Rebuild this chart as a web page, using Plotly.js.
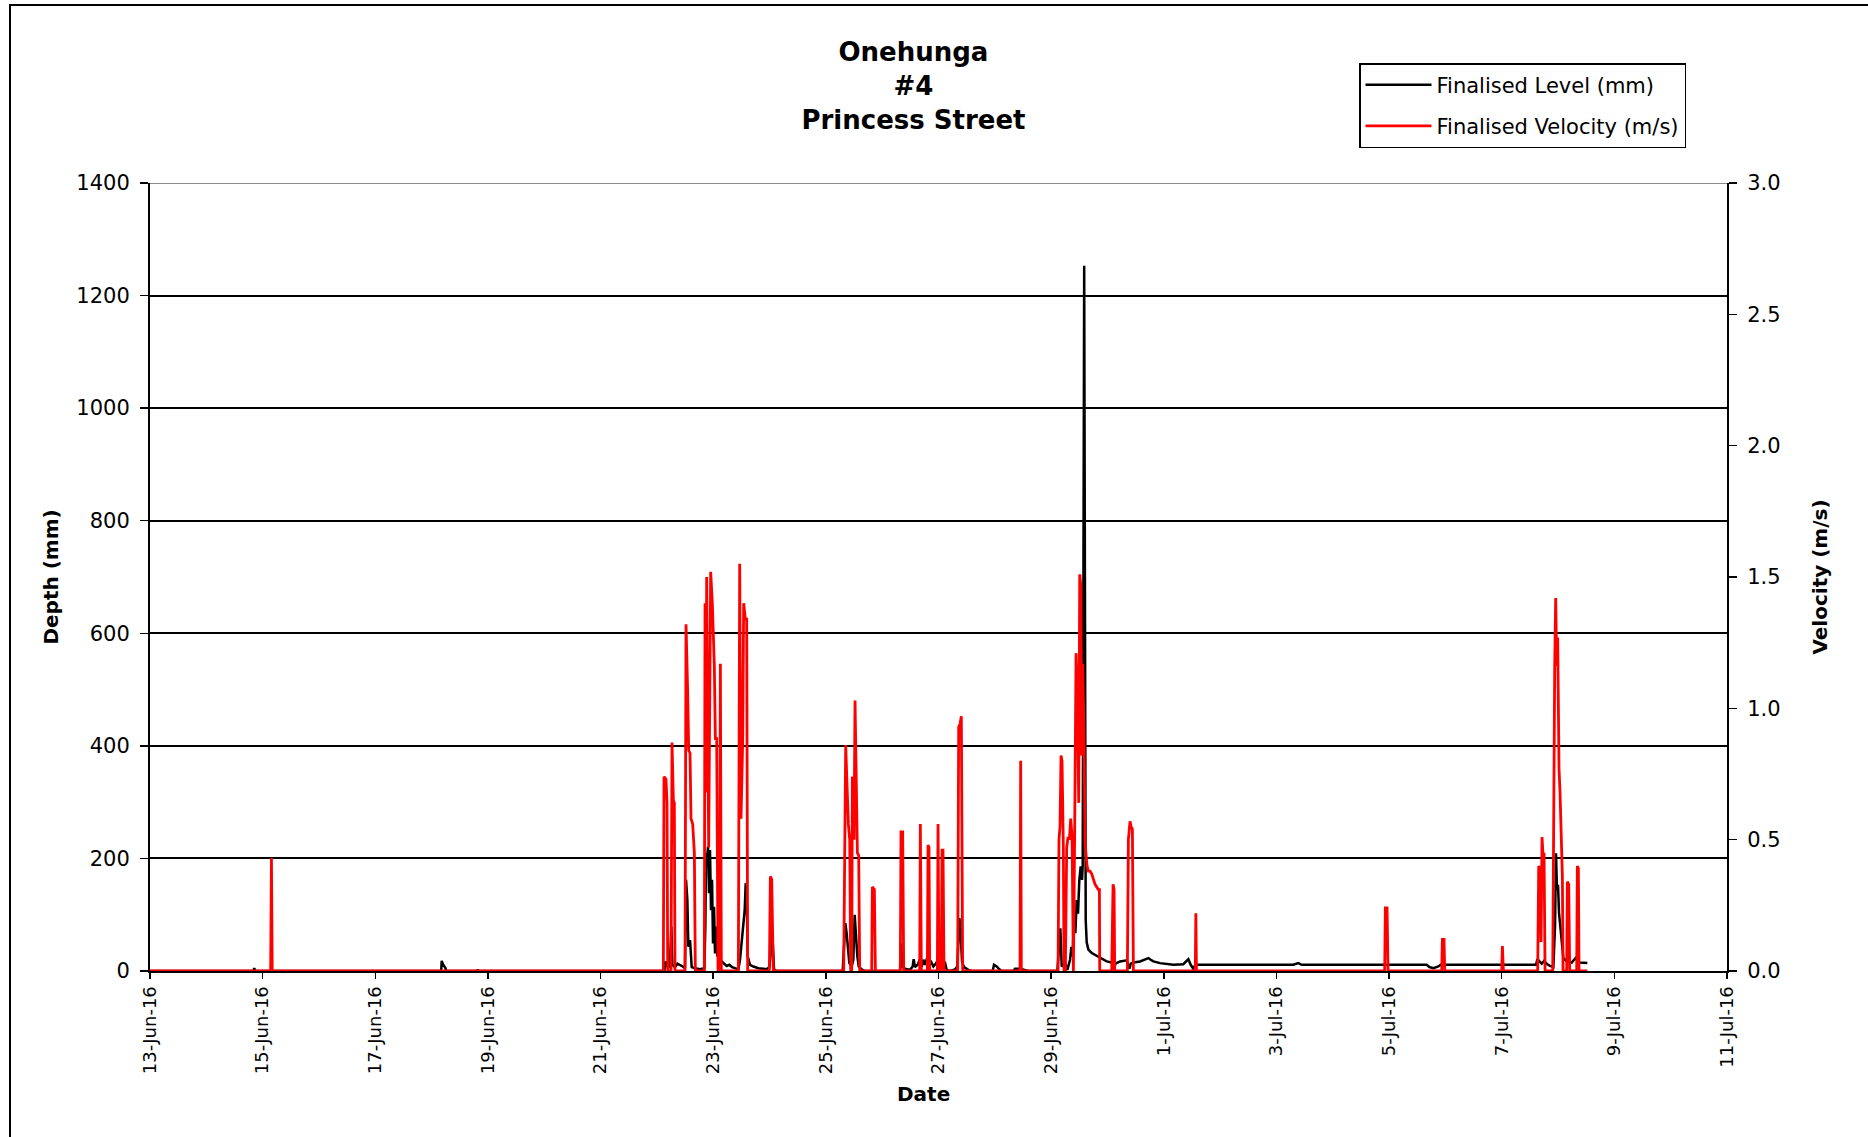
<!DOCTYPE html>
<html>
<head>
<meta charset="utf-8">
<script src="https://cdn.plot.ly/plotly-3.0.1.min.js"></script>
<style>
html,body{margin:0;padding:0;background:#ffffff;}
#chart{width:1868px;height:1137px;}
</style>
</head>
<body>
<div id="chart"></div>
<script>
// ---- Data ----
const yearPrefix = '2016-';

const levelTime = [
'06-13 00:00','06-14 20:00','06-14 20:25','06-14 20:50','06-18 04:05','06-18 04:18','06-18 04:50','06-18 05:55','06-18 06:10',
'06-18 19:30','06-18 19:40','06-18 19:50',
'06-22 03:11','06-22 03:36','06-22 04:10','06-22 04:53','06-22 05:35','06-22 06:10','06-22 06:35','06-22 07:43','06-22 08:43',
'06-22 09:51','06-22 10:59','06-22 11:59','06-22 12:25','06-22 12:59','06-22 13:24','06-22 14:07','06-22 14:50','06-22 16:15',
'06-22 18:23','06-22 20:13','06-22 20:39','06-22 20:56','06-22 21:22','06-22 21:47','06-22 22:13','06-22 22:38','06-22 23:04',
'06-22 23:30','06-22 23:55','06-23 00:21','06-23 00:46','06-23 01:12','06-23 01:46','06-23 02:20','06-23 02:54','06-23 03:37',
'06-23 04:36','06-23 05:44','06-23 06:53','06-23 08:01','06-23 09:18','06-23 10:43','06-23 11:25','06-23 12:08','06-23 12:51',
'06-23 13:25','06-23 13:50','06-23 14:16','06-23 14:41','06-23 15:41','06-23 17:06','06-23 19:14','06-23 21:22','06-23 22:47',
'06-23 23:56','06-24 00:30','06-24 01:04','06-24 01:29','06-24 01:55','06-24 03:03',
'06-25 07:10','06-25 07:44','06-25 08:18','06-25 08:52','06-25 09:26','06-25 10:00','06-25 11:00','06-25 11:42','06-25 12:17',
'06-25 12:51','06-25 13:25','06-25 13:59','06-25 15:16','06-25 16:41',
'06-26 07:36','06-26 08:01','06-26 08:35','06-26 09:44','06-26 11:51','06-26 13:00','06-26 13:25','06-26 13:59','06-26 15:08',
'06-26 16:07','06-26 16:50','06-26 17:32','06-26 18:15','06-26 18:58','06-26 19:49','06-26 20:48','06-26 21:48','06-26 22:47',
'06-26 23:56','06-27 00:56','06-27 01:47','06-27 02:46','06-27 03:29','06-27 04:54','06-27 07:02','06-27 08:02','06-27 08:53',
'06-27 09:27','06-27 10:01','06-27 10:52','06-27 12:43','06-27 14:08','06-27 23:05','06-27 23:39','06-28 00:48','06-28 01:56',
'06-28 02:56','06-28 07:54','06-28 08:36','06-28 10:44','06-28 12:52','06-28 14:17',
'06-29 02:39','06-29 03:56','06-29 04:30','06-29 05:55','06-29 06:54','06-29 08:03','06-29 08:37','06-29 09:11','06-29 09:45',
'06-29 10:19','06-29 10:53','06-29 11:27','06-29 12:01','06-29 12:36','06-29 13:10','06-29 13:27','06-29 14:05','06-29 14:30',
'06-29 14:44','06-29 15:09','06-29 15:52','06-29 17:18','06-29 19:25','06-29 21:33','06-29 23:41','06-30 01:49','06-30 02:48','06-30 03:22',
'06-30 05:22','06-30 08:12','06-30 09:22','06-30 09:55','06-30 11:02','06-30 13:53','06-30 17:26','06-30 18:26','06-30 19:34',
'06-30 22:24','07-01 04:04','07-01 08:20','07-01 10:28','07-01 11:28','07-01 12:36','07-01 13:27','07-03 07:12','07-03 09:21',
'07-03 10:46','07-05 16:02','07-05 17:10','07-05 18:53','07-05 21:01','07-05 22:00','07-07 14:37','07-07 15:11','07-07 16:03',
'07-07 17:02','07-07 18:02','07-07 19:10','07-07 20:35','07-07 22:00','07-07 22:43','07-07 23:08','07-07 23:34','07-08 00:00',
'07-08 00:25','07-08 00:59','07-08 01:34','07-08 02:16','07-08 03:41','07-08 05:49','07-08 07:40','07-08 09:05','07-08 12:30'
];
const levelDepth = [
0,0,5,0,0,18,12,5,0,
0,3,0,
0,17,11,5,13,79,11,7,13,
11,8,5,162,126,43,55,7,5,
3,5,79,209,197,221,138,215,108,
162,49,114,31,79,26,34,20,17,
13,9,11,7,5,3,20,49,79,
108,156,138,26,11,8,5,4,3,
7,31,76,20,3,0,
0,43,85,67,43,14,8,20,100,
61,26,8,3,0,
0,49,8,4,2,8,21,7,11,
21,7,20,11,21,21,17,8,13,
20,11,17,15,2,0,3,8,94,
67,17,7,2,0,0,11,8,3,
0,0,4,4,2,0,
0,76,8,14,2,20,43,26,102,
67,126,102,162,186,162,187,1253,98,
90,51,38,32,27,21,17,15,2,13,
17,19,4,13,15,17,23,20,17,
14,11,12,21,11,4,11,11,14,
11,11,7,5,8,11,11,21,18,
13,18,13,9,7,79,209,144,153,
103,79,43,23,17,15,24,15,14
];

const velTime = [
'06-13 00:00','06-15 03:25','06-15 03:45','06-15 04:05',
'06-22 02:45','06-22 03:02','06-22 03:53','06-22 04:19','06-22 04:36','06-22 06:01','06-22 06:27','06-22 07:01','06-22 07:26',
'06-22 07:43','06-22 11:59','06-22 12:25','06-22 13:07','06-22 13:33','06-22 14:07','06-22 14:32','06-22 15:15','06-22 15:58',
'06-22 16:23','06-22 20:13','06-22 20:31','06-22 20:56','06-22 21:13','06-22 22:04','06-22 22:55','06-22 23:38','06-23 00:29',
'06-23 00:55','06-23 01:29','06-23 02:03','06-23 02:45','06-23 03:03','06-23 03:28','06-23 10:43','06-23 11:17','06-23 11:51',
'06-23 12:34','06-23 12:59','06-23 13:42','06-23 14:16','06-23 14:41','06-23 23:56','06-24 00:21','06-24 00:55','06-24 01:20',
'06-24 01:38',
'06-25 07:36','06-25 08:02','06-25 08:27','06-25 09:01','06-25 09:35','06-25 10:10','06-25 10:35','06-25 11:01','06-25 11:18',
'06-25 11:43','06-25 12:00','06-25 12:26','06-25 12:52','06-25 13:26','06-25 14:00','06-25 14:25','06-25 19:32','06-25 19:49',
'06-25 20:40','06-25 21:06',
'06-26 07:44','06-26 08:01','06-26 08:44','06-26 09:10','06-26 15:59','06-26 16:16','06-26 16:41','06-26 19:15','06-26 19:32',
'06-26 19:57','06-26 20:14','06-26 23:31','06-26 23:48','06-27 00:13','06-27 01:13','06-27 01:30','06-27 01:55','06-27 02:21',
'06-27 08:10','06-27 08:36','06-27 09:10','06-27 09:44','06-27 10:18','06-28 10:44','06-28 11:01','06-28 11:18',
'06-29 02:56','06-29 03:21','06-29 03:47','06-29 04:13','06-29 04:38','06-29 05:12','06-29 05:30','06-29 06:04','06-29 06:38',
'06-29 07:12','06-29 07:46','06-29 08:20','06-29 08:55','06-29 09:12','06-29 09:29','06-29 10:03','06-29 10:37','06-29 11:11',
'06-29 11:45','06-29 12:11','06-29 12:36','06-29 13:02','06-29 13:27','06-29 14:01','06-29 14:27','06-29 14:53','06-29 15:18',
'06-29 15:52','06-29 16:35','06-29 17:17','06-29 18:00','06-29 18:43','06-29 19:25','06-29 20:08','06-29 20:34','06-29 20:42',
'06-30 01:49','06-30 02:23','06-30 02:49','06-30 03:05','06-30 08:29','06-30 08:55','06-30 09:37','06-30 10:03','06-30 10:37',
'06-30 11:03','07-01 13:25','07-01 13:40','07-01 13:55',
'07-04 22:08','07-04 22:25','07-04 23:08','07-04 23:34','07-05 22:26','07-05 22:43','07-05 23:25','07-05 23:43',
'07-07 00:00','07-07 00:17','07-07 00:43','07-07 15:20','07-07 15:46','07-07 16:20','07-07 16:45','07-07 17:11','07-07 17:36',
'07-07 18:02','07-07 18:28','07-07 21:44','07-07 22:09','07-07 22:35','07-07 23:00','07-07 23:26','07-07 23:51','07-08 00:08',
'07-08 00:25','07-08 00:51','07-08 01:17','07-08 01:51','07-08 02:08','07-08 03:41','07-08 03:58','07-08 04:33','07-08 04:58',
'07-08 07:57','07-08 08:14','07-08 08:40','07-08 08:57','07-08 12:30'
];
const velValue = [
0,0,0.43,0,
0,0.74,0.73,0.64,0,0,0.87,0.65,0.64,
0,0,1.32,1.06,0.84,0.83,0.58,0.56,0.45,
0,0,1.40,0.68,1.50,0.47,1.52,1.40,1.16,
0.88,0.89,0,0,1.17,0,0,1.55,0.58,
0.88,1.40,1.34,1.34,0,0,0.36,0.35,0.14,
0,
0,0.36,0.86,0.71,0.56,0.50,0,0,0.74,
0.73,0.50,1.03,0.80,0.45,0.44,0,0,0.32,
0.31,0,
0,0.53,0.53,0,0,0.56,0,0,0.48,
0.47,0,0,0.56,0,0,0.46,0.46,0,
0,0.93,0.94,0.97,0,0,0.80,0,
0,0.50,0.55,0.82,0.80,0.47,0,0,0.47,
0.51,0.50,0.58,0.51,0,0,0.56,1.21,1.06,
0.64,1.51,1.47,0.82,1.17,0.89,0.49,0.44,0.40,
0.38,0.38,0.37,0.35,0.33,0.32,0.31,0.31,0,
0,0.33,0.31,0,0,0.50,0.57,0.55,0.54,
0,0,0.22,0,
0,0.24,0.24,0,0,0.12,0.12,0,
0,0.095,0,0,0.40,0.38,0.11,0.51,0.44,
0.45,0,0,0.64,1.16,1.42,1.16,1.27,0.91,
0.77,0.68,0.51,0.36,0,0,0.34,0.33,0,
0,0.40,0.39,0,0
];

const xRange = ['2016-06-13', '2016-07-11'];
const depthRange = [0, 1400];
const velocityRange = [0, 3];
const titleLines = ['Onehunga', '#4', 'Princess Street'];
const seriesNames = ['Finalised Level (mm)', 'Finalised Velocity (m/s)'];
const axisTitles = {x: 'Date', y: 'Depth (mm)', y2: 'Velocity (m/s)'};

// ---- Traces ----
const traces = [
  {
    x: levelTime.map(t => yearPrefix + t),
    y: levelDepth,
    type: 'scatter', mode: 'lines',
    name: seriesNames[0],
    legendgroup: 'level',
    line: {color: '#000000', width: 2.5},
    yaxis: 'y'
  },
  {
    x: velTime.map(t => yearPrefix + t),
    y: velValue,
    type: 'scatter', mode: 'lines',
    name: seriesNames[1],
    legendgroup: 'velocity',
    line: {color: '#ff0000', width: 2.8},
    yaxis: 'y2'
  }
];

const baseFont = 'DejaVu Sans, Arial, sans-serif';

const layout = {
  width: 1868,
  height: 1137,
  margin: {l: 150, r: 141, t: 183, b: 166, pad: 0},
  paper_bgcolor: '#ffffff',
  plot_bgcolor: '#ffffff',
  font: {family: baseFont, color: '#000000', size: 21},
  showlegend: true,
  title: {
    text: titleLines.join('<br>'),
    font: {family: baseFont, size: 26, weight: 'bold', color: '#000000'},
    xref: 'container', x: 0.489, xanchor: 'center',
    yref: 'container', y: 1 - 61 / 1137, yanchor: 'top'
  },
  xaxis: {
    type: 'date',
    range: xRange,
    tick0: xRange[0],
    dtick: 2 * 86400000,
    tickformat: '%-d-%b-%y',
    tickangle: -90,
    ticks: 'outside', ticklen: 6, tickwidth: 1.5, tickcolor: '#000000',
    tickfont: {family: baseFont, size: 18, color: '#000000'},
    showline: true, linecolor: '#000000', linewidth: 2,
    showgrid: false, zeroline: false
  },
  yaxis: {
    range: depthRange,
    dtick: 200,
    tickformat: 'd',
    ticks: 'outside', ticklen: 8, tickwidth: 1.5, tickcolor: '#000000',
    ticklabelstandoff: 6,
    tickfont: {family: baseFont, size: 21, color: '#000000'},
    showline: true, linecolor: '#000000', linewidth: 2,
    showgrid: true, gridcolor: '#000000', gridwidth: 2,
    zeroline: false,
    title: {text: axisTitles.y, font: {family: baseFont, size: 20, weight: 'bold'}, standoff: 12}
  },
  yaxis2: {
    overlaying: 'y', side: 'right',
    range: velocityRange,
    dtick: 0.5,
    tickformat: '.1f',
    ticks: 'outside', ticklen: 8, tickwidth: 1.5, tickcolor: '#000000',
    ticklabelstandoff: 6,
    tickfont: {family: baseFont, size: 21, color: '#000000'},
    showline: true, linecolor: '#000000', linewidth: 2,
    showgrid: false, zeroline: false,
    title: {text: axisTitles.y2, font: {family: baseFont, size: 20, weight: 'bold'}, standoff: 33}
  },
  yaxis3: {
    overlaying: 'y', side: 'left', anchor: 'x',
    range: depthRange, dtick: 200,
    ticks: 'inside', ticklen: 8, tickwidth: 1.5, tickcolor: '#000000',
    showticklabels: false, showgrid: false, showline: false, zeroline: false
  },
  yaxis4: {
    overlaying: 'y', side: 'right', anchor: 'x',
    range: velocityRange, dtick: 0.5,
    ticks: 'inside', ticklen: 8, tickwidth: 1.5, tickcolor: '#000000',
    showticklabels: false, showgrid: false, showline: false, zeroline: false
  },
  legend: {
    x: (1359 - 150) / 1577, y: (971 - 63) / 788,
    xanchor: 'left', yanchor: 'top',
    bgcolor: '#ffffff', bordercolor: '#000000', borderwidth: 1.5,
    font: {family: baseFont, size: 21, color: '#000000'},
    traceorder: 'grouped', tracegroupgap: 11,
    itemwidth: 66
  },
  annotations: [
    {text: axisTitles.x, xref: 'paper', yref: 'paper',
     x: (923 - 150) / 1577, y: (971 - 1094) / 788, xanchor: 'center', yanchor: 'middle',
     showarrow: false, font: {family: baseFont, size: 20, weight: 'bold', color: '#000000'}}
  ],
  shapes: [
    {type: 'rect', xref: 'paper', yref: 'paper',
     x0: (10 - 150) / 1577, x1: 1.3, y0: -0.4, y1: (971 - 5) / 788,
     line: {color: '#000000', width: 2}, fillcolor: 'rgba(0,0,0,0)', layer: 'below'},
    {type: 'line', xref: 'paper', yref: 'y', x0: 0, x1: 1, y0: depthRange[1], y1: depthRange[1],
     line: {color: '#8c8c8c', width: 2}, layer: 'above'}
  ]
};

Plotly.newPlot('chart', traces, layout, {displayModeBar: false, staticPlot: true});
</script>
</body>
</html>
